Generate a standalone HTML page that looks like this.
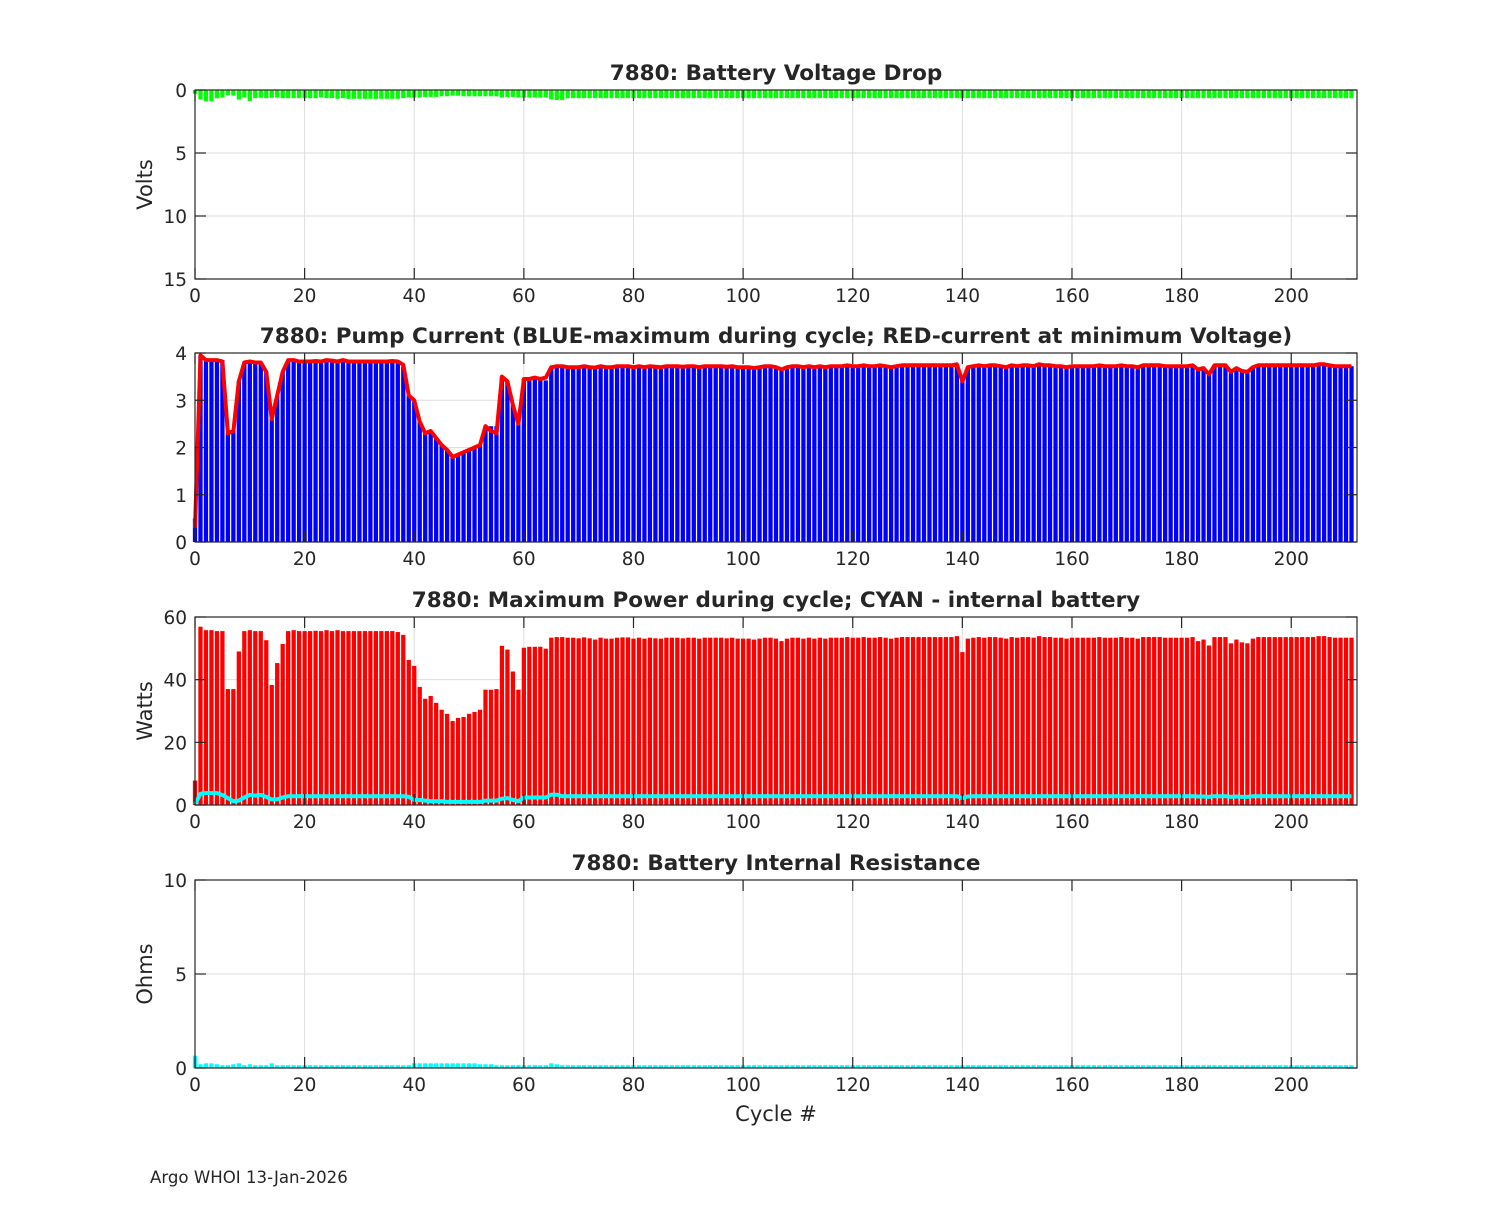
<!DOCTYPE html>
<html><head><meta charset="utf-8"><style>
html,body{margin:0;padding:0;background:#fff}
svg text{font-family:"DejaVu Sans","Liberation Sans",sans-serif;fill:#262626}
</style></head><body>
<svg id="fig" width="1500" height="1200" viewBox="0 0 1500 1200" xmlns="http://www.w3.org/2000/svg">
<rect width="1500" height="1200" fill="#fff"/>
<text x="150" y="1183" font-size="16.6">Argo WHOI 13-Jan-2026</text>
<text x="776" y="1121" font-size="21" text-anchor="middle">Cycle #</text>
</svg>
<script>
const voltDrop=[
0.3,0.75,0.9,0.9,0.66,0.6,0.4,0.45,0.76,0.6,
0.87,0.65,0.62,0.65,0.62,0.6,0.65,0.65,0.65,0.65,
0.65,0.65,0.65,0.6,0.65,0.65,0.7,0.65,0.7,0.7,
0.7,0.7,0.7,0.7,0.7,0.7,0.7,0.7,0.65,0.6,
0.6,0.6,0.55,0.55,0.55,0.5,0.5,0.45,0.45,0.5,
0.5,0.5,0.5,0.5,0.5,0.5,0.6,0.55,0.55,0.6,
0.6,0.6,0.6,0.6,0.6,0.75,0.8,0.8,0.65,0.65,
0.65,0.65,0.65,0.65,0.65,0.65,0.65,0.65,0.65,0.65,
0.65,0.65,0.65,0.65,0.65,0.65,0.65,0.65,0.65,0.65,
0.65,0.65,0.65,0.65,0.65,0.65,0.65,0.65,0.65,0.65,
0.65,0.65,0.65,0.65,0.65,0.65,0.65,0.65,0.65,0.65,
0.65,0.65,0.65,0.65,0.65,0.65,0.65,0.65,0.65,0.65,
0.65,0.65,0.65,0.65,0.65,0.65,0.65,0.65,0.65,0.65,
0.65,0.65,0.65,0.65,0.65,0.65,0.65,0.65,0.65,0.65,
0.65,0.65,0.65,0.65,0.65,0.65,0.65,0.65,0.65,0.65,
0.65,0.65,0.65,0.65,0.65,0.65,0.65,0.65,0.65,0.65,
0.65,0.65,0.65,0.65,0.65,0.65,0.65,0.65,0.65,0.65,
0.65,0.65,0.65,0.65,0.65,0.65,0.65,0.65,0.65,0.65,
0.65,0.65,0.65,0.65,0.65,0.65,0.65,0.65,0.65,0.65,
0.65,0.65,0.65,0.65,0.65,0.65,0.65,0.65,0.65,0.65,
0.65,0.65,0.65,0.65,0.65,0.65,0.65,0.65,0.65,0.65,
0.65,0.65];
const pumpMax=[0.5,3.95,3.85,3.85,3.85,3.85,2.3,2.35,3.4,3.8,3.8,3.8,3.8,3.6,2.6,3.1,3.6,3.85,3.85,3.82,3.82,3.82,3.83,3.82,3.85,3.84,3.82,3.85,3.82,3.82,3.82,3.82,3.82,3.82,3.82,3.82,3.83,3.82,3.72,3.1,3.0,2.55,2.3,2.35,2.2,2.05,1.95,1.8,1.85,1.9,1.95,2.0,2.05,2.45,2.45,2.45,3.5,3.4,2.9,2.5,3.45,3.45,3.45,3.45,3.42,3.7,3.72,3.72,3.7,3.7,3.7,3.72,3.7,3.69,3.72,3.7,3.7,3.72,3.72,3.72,3.7,3.72,3.7,3.72,3.71,3.7,3.72,3.72,3.72,3.71,3.72,3.72,3.7,3.72,3.72,3.72,3.72,3.71,3.72,3.7,3.7,3.7,3.68,3.7,3.72,3.72,3.7,3.65,3.7,3.72,3.72,3.7,3.72,3.7,3.72,3.7,3.72,3.72,3.72,3.74,3.72,3.72,3.74,3.72,3.72,3.74,3.72,3.7,3.72,3.74,3.74,3.74,3.74,3.74,3.74,3.74,3.74,3.74,3.74,3.76,3.4,3.7,3.72,3.74,3.72,3.74,3.74,3.72,3.7,3.74,3.72,3.74,3.74,3.72,3.76,3.74,3.74,3.72,3.72,3.7,3.72,3.72,3.72,3.72,3.72,3.74,3.72,3.72,3.72,3.74,3.72,3.72,3.7,3.74,3.74,3.74,3.74,3.72,3.72,3.72,3.72,3.72,3.74,3.65,3.68,3.55,3.74,3.74,3.74,3.6,3.68,3.62,3.6,3.7,3.74,3.74,3.74,3.74,3.74,3.74,3.74,3.74,3.74,3.74,3.74,3.76,3.76,3.74,3.72,3.72,3.72,3.72];
const pumpAtMinV=[0.3,3.95,3.85,3.85,3.85,3.82,2.3,2.35,3.4,3.8,3.82,3.8,3.8,3.6,2.6,3.1,3.6,3.85,3.85,3.82,3.82,3.82,3.83,3.82,3.85,3.84,3.82,3.85,3.82,3.82,3.82,3.82,3.82,3.82,3.82,3.82,3.83,3.82,3.75,3.1,3.0,2.55,2.3,2.35,2.2,2.05,1.95,1.8,1.85,1.9,1.95,2.0,2.05,2.45,2.35,2.3,3.5,3.4,2.9,2.5,3.45,3.45,3.48,3.45,3.48,3.7,3.72,3.72,3.7,3.7,3.7,3.72,3.7,3.69,3.72,3.7,3.7,3.72,3.72,3.72,3.7,3.72,3.7,3.72,3.71,3.7,3.72,3.72,3.72,3.71,3.72,3.72,3.7,3.72,3.72,3.72,3.72,3.71,3.72,3.7,3.7,3.7,3.68,3.7,3.72,3.72,3.7,3.65,3.7,3.72,3.72,3.7,3.72,3.7,3.72,3.7,3.72,3.72,3.72,3.74,3.72,3.72,3.74,3.72,3.72,3.74,3.72,3.7,3.72,3.74,3.74,3.74,3.74,3.74,3.74,3.74,3.74,3.74,3.74,3.76,3.4,3.7,3.72,3.74,3.72,3.74,3.74,3.72,3.7,3.74,3.72,3.74,3.74,3.72,3.76,3.74,3.74,3.72,3.72,3.7,3.72,3.72,3.72,3.72,3.72,3.74,3.72,3.72,3.72,3.74,3.72,3.72,3.7,3.74,3.74,3.74,3.74,3.72,3.72,3.72,3.72,3.72,3.74,3.65,3.68,3.55,3.74,3.74,3.74,3.6,3.68,3.62,3.6,3.7,3.74,3.74,3.74,3.74,3.74,3.74,3.74,3.74,3.74,3.74,3.74,3.76,3.76,3.74,3.72,3.72,3.72,3.72];
const powerMax=[7.8,56.9,55.8,55.8,55.5,55.5,37,37,49,55.5,55.8,55.5,55.5,52.6,38.3,45.3,51.4,55.5,55.8,55.5,55.5,55.5,55.6,55.5,55.8,55.5,55.8,55.5,55.5,55.5,55.5,55.5,55.5,55.5,55.5,55.5,55.5,55.2,54.3,46.3,44.4,37.7,33.9,34.8,32.6,30.4,29.1,26.8,27.8,28.1,29.1,29.7,30.4,36.8,36.8,37,50.8,49.6,42.6,36.8,50.2,50.5,50.5,50.5,49.9,53.4,53.6,53.6,53.4,53.4,53.2,53.5,53.2,52.8,53.4,53.1,53.1,53.4,53.5,53.5,53.1,53.4,53.1,53.4,53.2,53.1,53.4,53.4,53.4,53.2,53.4,53.4,53.1,53.4,53.4,53.4,53.4,53.2,53.4,53.1,53.1,53.1,52.8,53.1,53.4,53.4,53.1,52.3,53.1,53.4,53.4,53.1,53.4,53.1,53.4,53.1,53.4,53.4,53.4,53.6,53.4,53.4,53.6,53.4,53.4,53.6,53.4,53.1,53.4,53.6,53.6,53.6,53.6,53.6,53.6,53.6,53.6,53.6,53.6,53.9,48.8,53.1,53.4,53.6,53.4,53.6,53.6,53.4,53.1,53.6,53.4,53.6,53.6,53.4,53.9,53.6,53.6,53.4,53.4,53.1,53.4,53.4,53.4,53.4,53.4,53.6,53.4,53.4,53.4,53.6,53.4,53.4,53.1,53.6,53.6,53.6,53.6,53.4,53.4,53.4,53.4,53.4,53.6,52.3,52.8,50.9,53.6,53.6,53.6,51.6,52.8,51.9,51.6,53.1,53.6,53.6,53.6,53.6,53.6,53.6,53.6,53.6,53.6,53.6,53.6,53.9,53.9,53.6,53.4,53.4,53.4,53.4];
const powerInternal=[
0.2,3.6,3.8,3.8,3.8,3.2,2.2,1.2,1.4,2.4,
3.2,3.0,3.2,2.6,1.8,1.8,2.4,2.8,2.8,2.8,
2.8,2.8,2.8,2.8,2.8,2.8,2.8,2.8,2.8,2.8,
2.8,2.8,2.8,2.8,2.8,2.8,2.8,2.8,2.8,2.6,
1.6,1.6,1.4,1.2,1.2,1.2,1.0,1.0,1.0,1.0,
1.0,1.0,1.0,1.4,1.4,1.4,2.0,2.2,1.6,1.2,
2.4,2.4,2.4,2.4,2.4,3.3,3.3,2.8,2.8,2.8,
2.8,2.8,2.8,2.8,2.8,2.8,2.8,2.8,2.8,2.8,
2.8,2.8,2.8,2.8,2.8,2.8,2.8,2.8,2.8,2.8,
2.8,2.8,2.8,2.8,2.8,2.8,2.8,2.8,2.8,2.8,
2.8,2.8,2.8,2.8,2.8,2.8,2.8,2.8,2.8,2.8,
2.8,2.8,2.8,2.8,2.8,2.8,2.8,2.8,2.8,2.8,
2.8,2.8,2.8,2.8,2.8,2.8,2.8,2.8,2.8,2.8,
2.8,2.8,2.8,2.8,2.8,2.8,2.8,2.8,2.8,2.8,
2.2,2.7,2.8,2.8,2.8,2.8,2.8,2.8,2.8,2.8,
2.8,2.8,2.8,2.8,2.8,2.8,2.8,2.8,2.8,2.8,
2.8,2.8,2.8,2.8,2.8,2.8,2.8,2.8,2.8,2.8,
2.8,2.8,2.8,2.8,2.8,2.8,2.8,2.8,2.8,2.8,
2.8,2.8,2.8,2.7,2.7,2.6,2.8,2.8,2.8,2.6,
2.7,2.6,2.6,2.8,2.8,2.8,2.8,2.8,2.8,2.8,
2.8,2.8,2.8,2.8,2.8,2.8,2.8,2.8,2.8,2.8,
2.8,2.8];
const resistance=[
0.65,0.2,0.25,0.25,0.2,0.15,0.15,0.2,0.25,0.15,
0.2,0.15,0.15,0.15,0.25,0.15,0.15,0.15,0.15,0.15,
0.15,0.15,0.15,0.15,0.15,0.15,0.15,0.15,0.15,0.15,
0.15,0.15,0.15,0.15,0.15,0.15,0.15,0.15,0.15,0.15,
0.25,0.25,0.25,0.25,0.25,0.25,0.25,0.25,0.25,0.25,
0.25,0.25,0.2,0.2,0.2,0.15,0.15,0.15,0.15,0.15,
0.15,0.15,0.15,0.15,0.15,0.25,0.2,0.15,0.15,0.15,
0.15,0.15,0.15,0.15,0.15,0.15,0.15,0.15,0.15,0.15,
0.15,0.15,0.15,0.15,0.15,0.15,0.15,0.15,0.15,0.15,
0.15,0.15,0.15,0.15,0.15,0.15,0.15,0.15,0.15,0.15,
0.15,0.15,0.15,0.15,0.15,0.15,0.15,0.15,0.15,0.15,
0.15,0.15,0.15,0.15,0.15,0.15,0.15,0.15,0.15,0.15,
0.15,0.15,0.15,0.15,0.15,0.15,0.15,0.15,0.15,0.15,
0.15,0.15,0.15,0.15,0.15,0.15,0.15,0.15,0.15,0.15,
0.15,0.15,0.15,0.15,0.15,0.15,0.15,0.15,0.15,0.15,
0.15,0.15,0.15,0.15,0.15,0.15,0.15,0.15,0.15,0.15,
0.15,0.15,0.15,0.15,0.15,0.15,0.15,0.15,0.15,0.15,
0.15,0.15,0.15,0.15,0.15,0.15,0.15,0.15,0.15,0.15,
0.15,0.15,0.15,0.15,0.15,0.15,0.15,0.15,0.15,0.15,
0.15,0.15,0.15,0.15,0.15,0.15,0.15,0.15,0.15,0.15,
0.15,0.15,0.15,0.15,0.15,0.15,0.15,0.15,0.15,0.15,
0.15,0.15];
const xTicks=[0,20,40,60,80,100,120,140,160,180,200];
const yTicks1=[0,5,10,15];
const yTicks2=[0,1,2,3,4];
const yTicks3=[0,20,40,60];
const yTicks4=[0,5,10];

const NS="http://www.w3.org/2000/svg";
const svg=document.getElementById('fig');
const X0=195,X1=1357,XMAX=212;
const xs=v=>X0+(X1-X0)*v/XMAX;
function mk(tag,attrs,parent){const e=document.createElementNS(NS,tag);for(const k in attrs)e.setAttribute(k,attrs[k]);(parent||svg).appendChild(e);return e;}

function panel(name,top,bot,ymin,ymax,inverted,yTicks,title,ylabel){
  const g=mk('g',{});
  
  
  const ys=v=>inverted? top+(bot-top)*(v-ymin)/(ymax-ymin) : bot-(bot-top)*(v-ymin)/(ymax-ymin);
  const grid=mk('g',{stroke:'#dedede','stroke-width':1},g);
  
  
  xTicks.forEach(t=>{if(t>0)mk('line',{x1:xs(t),x2:xs(t),y1:top,y2:bot},grid);});
  yTicks.forEach(t=>{const y=ys(t);if(y>top+1&&y<bot-1)mk('line',{x1:X0,x2:X1,y1:y,y2:y},grid);});
  const marks=mk('g',{},g);
  
  
  const t=mk('text',{x:776,y:top-10,'font-size':21.5,'font-weight':'bold','text-anchor':'middle'},g);
  t.textContent=title;
  
  
  const yl=mk('text',{x:0,y:0,'font-size':21,'text-anchor':'middle',transform:`translate(152,${(top+bot)/2}) rotate(-90)`},g);
  yl.textContent=ylabel;
  
  
  return {g,marks,ys,top,bot,yTicks};
}
function finishAxes(p){
  const ax=mk('g',{stroke:'#262626','stroke-width':1.2,fill:'none'},p.g);
  
  
  mk('rect',{x:X0,y:p.top,width:X1-X0,height:p.bot-p.top},ax);
  xTicks.forEach(t=>{const x=xs(t);mk('line',{x1:x,x2:x,y1:p.bot,y2:p.bot-11},ax);mk('line',{x1:x,x2:x,y1:p.top,y2:p.top+11},ax);
    const l=mk('text',{x:x,y:p.bot+23,'font-size':18.5,'text-anchor':'middle',stroke:'none'},p.g);l.textContent=t;
    
    });
  p.yTicks.forEach(t=>{const y=p.ys(t);mk('line',{x1:X0,x2:X0+11,y1:y,y2:y},ax);mk('line',{x1:X1,x2:X1-11,y1:y,y2:y},ax);
    const l=mk('text',{x:X0-8,y:y+7,'font-size':18.5,'text-anchor':'end',stroke:'none'},p.g);l.textContent=t;
    
    });
}
function bars(p,vals,color,name){
  const bw=(X1-X0)/XMAX*0.78;
  vals.forEach((v,i)=>{const y0=p.ys(0),y1=p.ys(v);
    const r=mk('rect',{x:xs(i)-bw/2,y:Math.min(y0,y1),width:bw,height:Math.abs(y1-y0),fill:color},p.marks);
    
    });
}
function line(p,vals,color,name){
  const d=vals.map((v,i)=>(i?'L':'M')+xs(i).toFixed(1)+','+p.ys(v).toFixed(1)).join('');
  const l=mk('path',{d:d,fill:'none',stroke:color,'stroke-width':4,'stroke-linejoin':'round'},p.marks);
  
  
}
const p1=panel('voltage-drop-panel',90,279,0,15,true,yTicks1,'7880: Battery Voltage Drop','Volts');
bars(p1,voltDrop,'#00ff00','voltage-drop-bar');finishAxes(p1);
const p2=panel('pump-current-panel',353,542,0,4,false,yTicks2,'7880: Pump Current (BLUE-maximum during cycle; RED-current at minimum Voltage)','');
bars(p2,pumpMax,'#0000ff','pump-max-bar');line(p2,pumpAtMinV,'#ff0000','current-at-min-voltage-line');finishAxes(p2);
const p3=panel('power-panel',617,805,0,60,false,yTicks3,'7880: Maximum Power during cycle; CYAN - internal battery','Watts');
bars(p3,powerMax,'#ff0000','power-max-bar');line(p3,powerInternal,'#00ffff','internal-battery-power-line');finishAxes(p3);
const p4=panel('resistance-panel',880,1068,0,10,false,yTicks4,'7880: Battery Internal Resistance','Ohms');
bars(p4,resistance,'#00ffff','resistance-bar');finishAxes(p4);
</script>
</body></html>
